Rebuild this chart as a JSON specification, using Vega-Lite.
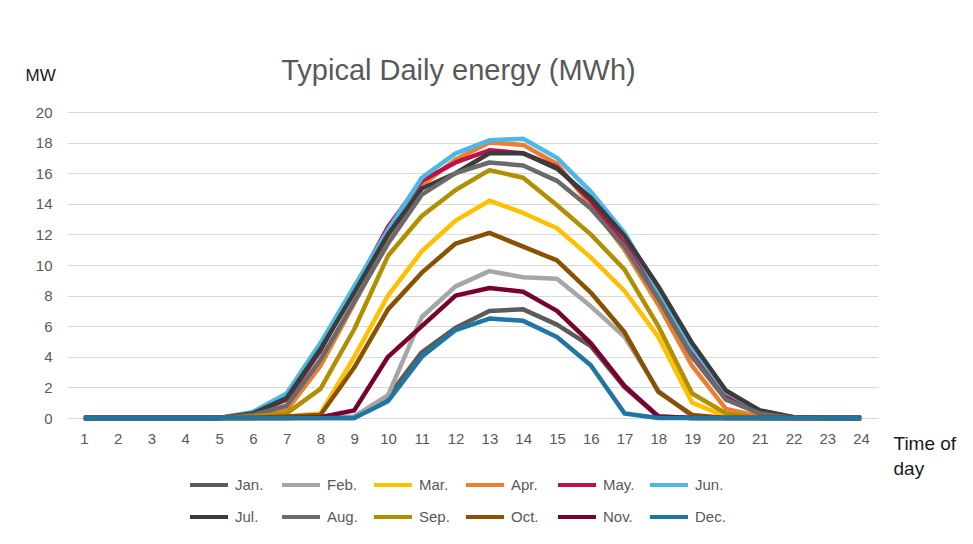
{
  "$schema": "https://vega.github.io/schema/vega-lite/v6.json",
  "autosize": "none",
  "width": 811,
  "height": 306,
  "padding": {"left": 67, "top": 112, "right": 95, "bottom": 126},
  "background": "white",
  "config": {
    "font": "Liberation Sans",
    "view": {"stroke": null}
  },
  "title": {
    "text": "Typical Daily energy (MWh)",
    "anchor": "middle",
    "dx": -14,
    "offset": -20,
    "fontSize": 29,
    "fontWeight": "normal",
    "color": "#595959"
  },
  "data": {
    "values": [
      {"month":"Jan.","hour":1,"mw":0},{"month":"Jan.","hour":2,"mw":0},{"month":"Jan.","hour":3,"mw":0},{"month":"Jan.","hour":4,"mw":0},{"month":"Jan.","hour":5,"mw":0},{"month":"Jan.","hour":6,"mw":0},{"month":"Jan.","hour":7,"mw":0},{"month":"Jan.","hour":8,"mw":0},{"month":"Jan.","hour":9,"mw":0},{"month":"Jan.","hour":10,"mw":1.4},{"month":"Jan.","hour":11,"mw":4.3},{"month":"Jan.","hour":12,"mw":5.9},{"month":"Jan.","hour":13,"mw":7.0},{"month":"Jan.","hour":14,"mw":7.1},{"month":"Jan.","hour":15,"mw":6.1},{"month":"Jan.","hour":16,"mw":4.7},{"month":"Jan.","hour":17,"mw":2.0},{"month":"Jan.","hour":18,"mw":0.1},{"month":"Jan.","hour":19,"mw":0},{"month":"Jan.","hour":20,"mw":0},{"month":"Jan.","hour":21,"mw":0},{"month":"Jan.","hour":22,"mw":0},{"month":"Jan.","hour":23,"mw":0},{"month":"Jan.","hour":24,"mw":0},
      {"month":"Feb.","hour":1,"mw":0},{"month":"Feb.","hour":2,"mw":0},{"month":"Feb.","hour":3,"mw":0},{"month":"Feb.","hour":4,"mw":0},{"month":"Feb.","hour":5,"mw":0},{"month":"Feb.","hour":6,"mw":0},{"month":"Feb.","hour":7,"mw":0},{"month":"Feb.","hour":8,"mw":0},{"month":"Feb.","hour":9,"mw":0.1},{"month":"Feb.","hour":10,"mw":1.5},{"month":"Feb.","hour":11,"mw":6.6},{"month":"Feb.","hour":12,"mw":8.6},{"month":"Feb.","hour":13,"mw":9.6},{"month":"Feb.","hour":14,"mw":9.2},{"month":"Feb.","hour":15,"mw":9.1},{"month":"Feb.","hour":16,"mw":7.3},{"month":"Feb.","hour":17,"mw":5.3},{"month":"Feb.","hour":18,"mw":1.8},{"month":"Feb.","hour":19,"mw":0.1},{"month":"Feb.","hour":20,"mw":0},{"month":"Feb.","hour":21,"mw":0},{"month":"Feb.","hour":22,"mw":0},{"month":"Feb.","hour":23,"mw":0},{"month":"Feb.","hour":24,"mw":0},
      {"month":"Mar.","hour":1,"mw":0},{"month":"Mar.","hour":2,"mw":0},{"month":"Mar.","hour":3,"mw":0},{"month":"Mar.","hour":4,"mw":0},{"month":"Mar.","hour":5,"mw":0},{"month":"Mar.","hour":6,"mw":0},{"month":"Mar.","hour":7,"mw":0.1},{"month":"Mar.","hour":8,"mw":0.3},{"month":"Mar.","hour":9,"mw":4.0},{"month":"Mar.","hour":10,"mw":8.0},{"month":"Mar.","hour":11,"mw":10.9},{"month":"Mar.","hour":12,"mw":12.9},{"month":"Mar.","hour":13,"mw":14.2},{"month":"Mar.","hour":14,"mw":13.4},{"month":"Mar.","hour":15,"mw":12.4},{"month":"Mar.","hour":16,"mw":10.5},{"month":"Mar.","hour":17,"mw":8.3},{"month":"Mar.","hour":18,"mw":5.3},{"month":"Mar.","hour":19,"mw":1.0},{"month":"Mar.","hour":20,"mw":0.1},{"month":"Mar.","hour":21,"mw":0},{"month":"Mar.","hour":22,"mw":0},{"month":"Mar.","hour":23,"mw":0},{"month":"Mar.","hour":24,"mw":0},
      {"month":"Apr.","hour":1,"mw":0},{"month":"Apr.","hour":2,"mw":0},{"month":"Apr.","hour":3,"mw":0},{"month":"Apr.","hour":4,"mw":0},{"month":"Apr.","hour":5,"mw":0},{"month":"Apr.","hour":6,"mw":0.2},{"month":"Apr.","hour":7,"mw":0.5},{"month":"Apr.","hour":8,"mw":3.4},{"month":"Apr.","hour":9,"mw":7.5},{"month":"Apr.","hour":10,"mw":11.6},{"month":"Apr.","hour":11,"mw":15.2},{"month":"Apr.","hour":12,"mw":16.9},{"month":"Apr.","hour":13,"mw":18.0},{"month":"Apr.","hour":14,"mw":17.85},{"month":"Apr.","hour":15,"mw":16.6},{"month":"Apr.","hour":16,"mw":13.9},{"month":"Apr.","hour":17,"mw":11.0},{"month":"Apr.","hour":18,"mw":7.4},{"month":"Apr.","hour":19,"mw":3.4},{"month":"Apr.","hour":20,"mw":0.6},{"month":"Apr.","hour":21,"mw":0.1},{"month":"Apr.","hour":22,"mw":0},{"month":"Apr.","hour":23,"mw":0},{"month":"Apr.","hour":24,"mw":0},
      {"month":"May.","hour":1,"mw":0},{"month":"May.","hour":2,"mw":0},{"month":"May.","hour":3,"mw":0},{"month":"May.","hour":4,"mw":0},{"month":"May.","hour":5,"mw":0},{"month":"May.","hour":6,"mw":0.3},{"month":"May.","hour":7,"mw":1.2},{"month":"May.","hour":8,"mw":4.4},{"month":"May.","hour":9,"mw":8.4},{"month":"May.","hour":10,"mw":12.5},{"month":"May.","hour":11,"mw":15.5},{"month":"May.","hour":12,"mw":16.7},{"month":"May.","hour":13,"mw":17.5},{"month":"May.","hour":14,"mw":17.3},{"month":"May.","hour":15,"mw":16.4},{"month":"May.","hour":16,"mw":14.2},{"month":"May.","hour":17,"mw":11.4},{"month":"May.","hour":18,"mw":8.0},{"month":"May.","hour":19,"mw":4.3},{"month":"May.","hour":20,"mw":1.4},{"month":"May.","hour":21,"mw":0.4},{"month":"May.","hour":22,"mw":0.05},{"month":"May.","hour":23,"mw":0},{"month":"May.","hour":24,"mw":0},
      {"month":"Jun.","hour":1,"mw":0},{"month":"Jun.","hour":2,"mw":0},{"month":"Jun.","hour":3,"mw":0},{"month":"Jun.","hour":4,"mw":0},{"month":"Jun.","hour":5,"mw":0},{"month":"Jun.","hour":6,"mw":0.4},{"month":"Jun.","hour":7,"mw":1.6},{"month":"Jun.","hour":8,"mw":4.9},{"month":"Jun.","hour":9,"mw":8.6},{"month":"Jun.","hour":10,"mw":12.3},{"month":"Jun.","hour":11,"mw":15.7},{"month":"Jun.","hour":12,"mw":17.3},{"month":"Jun.","hour":13,"mw":18.15},{"month":"Jun.","hour":14,"mw":18.25},{"month":"Jun.","hour":15,"mw":17.0},{"month":"Jun.","hour":16,"mw":14.8},{"month":"Jun.","hour":17,"mw":12.1},{"month":"Jun.","hour":18,"mw":8.3},{"month":"Jun.","hour":19,"mw":4.6},{"month":"Jun.","hour":20,"mw":1.7},{"month":"Jun.","hour":21,"mw":0.5},{"month":"Jun.","hour":22,"mw":0.05},{"month":"Jun.","hour":23,"mw":0},{"month":"Jun.","hour":24,"mw":0},
      {"month":"Jul.","hour":1,"mw":0},{"month":"Jul.","hour":2,"mw":0},{"month":"Jul.","hour":3,"mw":0},{"month":"Jul.","hour":4,"mw":0},{"month":"Jul.","hour":5,"mw":0},{"month":"Jul.","hour":6,"mw":0.3},{"month":"Jul.","hour":7,"mw":1.3},{"month":"Jul.","hour":8,"mw":4.5},{"month":"Jul.","hour":9,"mw":8.2},{"month":"Jul.","hour":10,"mw":12.0},{"month":"Jul.","hour":11,"mw":15.0},{"month":"Jul.","hour":12,"mw":16.0},{"month":"Jul.","hour":13,"mw":17.3},{"month":"Jul.","hour":14,"mw":17.3},{"month":"Jul.","hour":15,"mw":16.3},{"month":"Jul.","hour":16,"mw":14.4},{"month":"Jul.","hour":17,"mw":11.9},{"month":"Jul.","hour":18,"mw":8.6},{"month":"Jul.","hour":19,"mw":4.9},{"month":"Jul.","hour":20,"mw":1.8},{"month":"Jul.","hour":21,"mw":0.5},{"month":"Jul.","hour":22,"mw":0.05},{"month":"Jul.","hour":23,"mw":0},{"month":"Jul.","hour":24,"mw":0},
      {"month":"Aug.","hour":1,"mw":0},{"month":"Aug.","hour":2,"mw":0},{"month":"Aug.","hour":3,"mw":0},{"month":"Aug.","hour":4,"mw":0},{"month":"Aug.","hour":5,"mw":0},{"month":"Aug.","hour":6,"mw":0.2},{"month":"Aug.","hour":7,"mw":0.8},{"month":"Aug.","hour":8,"mw":3.8},{"month":"Aug.","hour":9,"mw":7.6},{"month":"Aug.","hour":10,"mw":11.4},{"month":"Aug.","hour":11,"mw":14.6},{"month":"Aug.","hour":12,"mw":16.0},{"month":"Aug.","hour":13,"mw":16.7},{"month":"Aug.","hour":14,"mw":16.5},{"month":"Aug.","hour":15,"mw":15.5},{"month":"Aug.","hour":16,"mw":13.7},{"month":"Aug.","hour":17,"mw":11.2},{"month":"Aug.","hour":18,"mw":7.8},{"month":"Aug.","hour":19,"mw":4.0},{"month":"Aug.","hour":20,"mw":1.2},{"month":"Aug.","hour":21,"mw":0.3},{"month":"Aug.","hour":22,"mw":0},{"month":"Aug.","hour":23,"mw":0},{"month":"Aug.","hour":24,"mw":0},
      {"month":"Sep.","hour":1,"mw":0},{"month":"Sep.","hour":2,"mw":0},{"month":"Sep.","hour":3,"mw":0},{"month":"Sep.","hour":4,"mw":0},{"month":"Sep.","hour":5,"mw":0},{"month":"Sep.","hour":6,"mw":0.1},{"month":"Sep.","hour":7,"mw":0.3},{"month":"Sep.","hour":8,"mw":1.9},{"month":"Sep.","hour":9,"mw":5.8},{"month":"Sep.","hour":10,"mw":10.6},{"month":"Sep.","hour":11,"mw":13.2},{"month":"Sep.","hour":12,"mw":14.9},{"month":"Sep.","hour":13,"mw":16.2},{"month":"Sep.","hour":14,"mw":15.7},{"month":"Sep.","hour":15,"mw":13.9},{"month":"Sep.","hour":16,"mw":12.0},{"month":"Sep.","hour":17,"mw":9.7},{"month":"Sep.","hour":18,"mw":6.0},{"month":"Sep.","hour":19,"mw":1.6},{"month":"Sep.","hour":20,"mw":0.3},{"month":"Sep.","hour":21,"mw":0},{"month":"Sep.","hour":22,"mw":0},{"month":"Sep.","hour":23,"mw":0},{"month":"Sep.","hour":24,"mw":0},
      {"month":"Oct.","hour":1,"mw":0},{"month":"Oct.","hour":2,"mw":0},{"month":"Oct.","hour":3,"mw":0},{"month":"Oct.","hour":4,"mw":0},{"month":"Oct.","hour":5,"mw":0},{"month":"Oct.","hour":6,"mw":0},{"month":"Oct.","hour":7,"mw":0.1},{"month":"Oct.","hour":8,"mw":0.2},{"month":"Oct.","hour":9,"mw":3.3},{"month":"Oct.","hour":10,"mw":7.1},{"month":"Oct.","hour":11,"mw":9.5},{"month":"Oct.","hour":12,"mw":11.4},{"month":"Oct.","hour":13,"mw":12.1},{"month":"Oct.","hour":14,"mw":11.2},{"month":"Oct.","hour":15,"mw":10.3},{"month":"Oct.","hour":16,"mw":8.2},{"month":"Oct.","hour":17,"mw":5.6},{"month":"Oct.","hour":18,"mw":1.7},{"month":"Oct.","hour":19,"mw":0.2},{"month":"Oct.","hour":20,"mw":0},{"month":"Oct.","hour":21,"mw":0},{"month":"Oct.","hour":22,"mw":0},{"month":"Oct.","hour":23,"mw":0},{"month":"Oct.","hour":24,"mw":0},
      {"month":"Nov.","hour":1,"mw":0},{"month":"Nov.","hour":2,"mw":0},{"month":"Nov.","hour":3,"mw":0},{"month":"Nov.","hour":4,"mw":0},{"month":"Nov.","hour":5,"mw":0},{"month":"Nov.","hour":6,"mw":0},{"month":"Nov.","hour":7,"mw":0},{"month":"Nov.","hour":8,"mw":0.05},{"month":"Nov.","hour":9,"mw":0.5},{"month":"Nov.","hour":10,"mw":4.0},{"month":"Nov.","hour":11,"mw":6.0},{"month":"Nov.","hour":12,"mw":8.0},{"month":"Nov.","hour":13,"mw":8.5},{"month":"Nov.","hour":14,"mw":8.25},{"month":"Nov.","hour":15,"mw":7.0},{"month":"Nov.","hour":16,"mw":4.9},{"month":"Nov.","hour":17,"mw":2.1},{"month":"Nov.","hour":18,"mw":0.1},{"month":"Nov.","hour":19,"mw":0},{"month":"Nov.","hour":20,"mw":0},{"month":"Nov.","hour":21,"mw":0},{"month":"Nov.","hour":22,"mw":0},{"month":"Nov.","hour":23,"mw":0},{"month":"Nov.","hour":24,"mw":0},
      {"month":"Dec.","hour":1,"mw":0},{"month":"Dec.","hour":2,"mw":0},{"month":"Dec.","hour":3,"mw":0},{"month":"Dec.","hour":4,"mw":0},{"month":"Dec.","hour":5,"mw":0},{"month":"Dec.","hour":6,"mw":0},{"month":"Dec.","hour":7,"mw":0},{"month":"Dec.","hour":8,"mw":0},{"month":"Dec.","hour":9,"mw":0},{"month":"Dec.","hour":10,"mw":1.1},{"month":"Dec.","hour":11,"mw":4.0},{"month":"Dec.","hour":12,"mw":5.75},{"month":"Dec.","hour":13,"mw":6.5},{"month":"Dec.","hour":14,"mw":6.35},{"month":"Dec.","hour":15,"mw":5.3},{"month":"Dec.","hour":16,"mw":3.45},{"month":"Dec.","hour":17,"mw":0.3},{"month":"Dec.","hour":18,"mw":0},{"month":"Dec.","hour":19,"mw":0},{"month":"Dec.","hour":20,"mw":0},{"month":"Dec.","hour":21,"mw":0},{"month":"Dec.","hour":22,"mw":0},{"month":"Dec.","hour":23,"mw":0},{"month":"Dec.","hour":24,"mw":0}
    ]
  },
  "mark": {"type": "line", "strokeWidth": 4.5, "strokeJoin": "round", "strokeCap": "butt"},
  "encoding": {
    "x": {
      "field": "hour",
      "type": "ordinal",
      "scale": {"type": "point", "padding": 0.5},
      "axis": {
        "labelAngle": 0,
        "labelFontSize": 15,
        "labelColor": "#595959",
        "labelPadding": 13,
        "ticks": false,
        "domain": true,
        "domainColor": "#d9d9d9",
        "domainWidth": 1,
        "grid": false,
        "title": ["Time of", "day"],
        "titleFontSize": 19,
        "titleFontWeight": "normal",
        "titleColor": "#1a1a1a",
        "titleAlign": "left",
        "titleBaseline": "middle",
        "titleAngle": 0,
        "titleX": 826,
        "titleY": 25,
        "titleLineHeight": 25
      }
    },
    "y": {
      "field": "mw",
      "type": "quantitative",
      "scale": {"domain": [0, 20], "nice": false},
      "axis": {
        "values": [0, 2, 4, 6, 8, 10, 12, 14, 16, 18, 20],
        "labelFontSize": 15,
        "labelColor": "#595959",
        "labelPadding": 15,
        "ticks": false,
        "domain": false,
        "grid": true,
        "gridColor": "#d9d9d9",
        "gridWidth": 1,
        "title": "MW",
        "titleFontSize": 17,
        "titleFontWeight": "normal",
        "titleColor": "#1a1a1a",
        "titleAngle": 0,
        "titleAlign": "left",
        "titleBaseline": "middle",
        "titleX": -42,
        "titleY": -37
      }
    },
    "color": {
      "field": "month",
      "type": "nominal",
      "scale": {
        "domain": ["Jan.", "Feb.", "Mar.", "Apr.", "May.", "Jun.", "Jul.", "Aug.", "Sep.", "Oct.", "Nov.", "Dec."],
        "range": ["#5b5b5b", "#a6a6a6", "#ffc000", "#ed7d31", "#c0104a", "#4cb8e8", "#3b3b3b", "#6a6a6a", "#b08f00", "#8a5200", "#7a0030", "#1f76a3"]
      },
      "legend": {
        "orient": "none",
        "legendX": 121,
        "legendY": 352,
        "direction": "horizontal",
        "columns": 6,
        "gridAlign": "all",
        "title": null,
        "symbolType": "stroke",
        "symbolSize": 1444,
        "symbolStrokeWidth": 4,
        "labelFontSize": 15,
        "labelColor": "#595959",
        "labelOffset": 5,
        "columnPadding": 7,
        "rowPadding": 3
      }
    }
  }
}
